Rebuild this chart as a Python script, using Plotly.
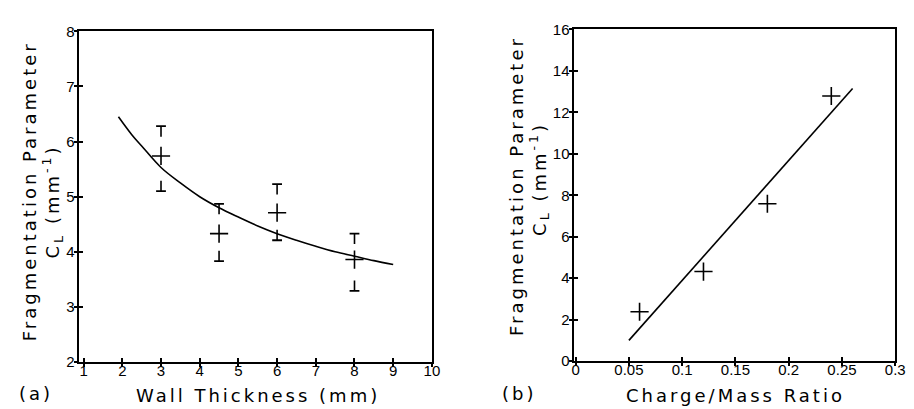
import plotly.graph_objects as go

W, H = 914, 409

# ---- Panel (a) data ----
wall_x = [3, 4.5, 6, 8]
wall_c = [5.74, 4.33, 4.71, 3.86]
wall_hi = [6.28, 4.87, 5.23, 4.33]
wall_lo = [5.10, 3.83, 4.21, 3.29]

fit_a_x = [1.9, 2.25, 2.5, 3.0, 3.5, 4.0, 4.5, 5.0, 5.5, 6.0, 6.5, 7.0, 7.5, 8.0, 8.5, 9.0]
fit_a_y = [6.45, 6.12, 5.92, 5.53, 5.25, 5.00, 4.80, 4.63, 4.47, 4.33, 4.21, 4.10, 4.00, 3.92, 3.84, 3.77]

# ---- Panel (b) data ----
ratio_x = [0.06, 0.12, 0.18, 0.24]
ratio_c = [2.38, 4.32, 7.59, 12.79]
fit_b_x = [0.05, 0.26]
fit_b_y = [1.0, 13.15]

a_ticks = [1, 2, 3, 4, 5, 6, 7, 8, 9, 10]
a_yticks = [2, 3, 4, 5, 6, 7, 8]
b_ticks = [0, 0.05, 0.1, 0.15, 0.2, 0.25, 0.3]
b_tick_text = ["0", "0.05", "0.1", "0.15", "0.2", "0.25", "0.3"]
b_yticks = [0, 2, 4, 6, 8, 10, 12, 14, 16]

STEM = 0.19  # length of the little stem on each error cap (style)

TICKFONT = dict(family="Liberation Sans, Arial, sans-serif", size=15, color="black")
TITLEFONT = dict(family="DejaVu Sans, Verdana, sans-serif", size=18, color="black")


def spaced(s, px=3):
    return '<span style="letter-spacing:%spx">%s</span>' % (px, s)


fig = go.Figure()

# Panel (a)
fig.add_trace(go.Scatter(x=fit_a_x, y=fit_a_y, mode="lines", line=dict(color="black", width=1.6, shape="spline"),
                         xaxis="x", yaxis="y", showlegend=False, hoverinfo="skip"))
fig.add_trace(go.Scatter(x=wall_x, y=wall_c, mode="markers",
                         marker=dict(symbol="cross-thin", size=13, line=dict(color="black", width=1.6)),
                         xaxis="x", yaxis="y", showlegend=False))
# upper caps: "T"
fig.add_trace(go.Scatter(x=wall_x, y=wall_hi, mode="markers",
                         marker=dict(symbol="line-ew", size=7, line=dict(color="black", width=1.8)),
                         error_y=dict(type="constant", value=0, valueminus=STEM, symmetric=False,
                                      width=0, thickness=1.6, color="black"),
                         xaxis="x", yaxis="y", showlegend=False))
# lower caps: "⊥"
fig.add_trace(go.Scatter(x=wall_x, y=wall_lo, mode="markers",
                         marker=dict(symbol="line-ew", size=7, line=dict(color="black", width=1.8)),
                         error_y=dict(type="constant", value=STEM, valueminus=0, symmetric=False,
                                      width=0, thickness=1.6, color="black"),
                         xaxis="x", yaxis="y", showlegend=False))

# Panel (b)
fig.add_trace(go.Scatter(x=fit_b_x, y=fit_b_y, mode="lines", line=dict(color="black", width=1.6),
                         xaxis="x2", yaxis="y2", showlegend=False, hoverinfo="skip"))
fig.add_trace(go.Scatter(x=ratio_x, y=ratio_c, mode="markers",
                         marker=dict(symbol="cross-thin", size=13, line=dict(color="black", width=1.6)),
                         xaxis="x2", yaxis="y2", showlegend=False))

# dummy traces for overlay axes (ticks drawn on the other side of the axis line)
fig.add_trace(go.Scatter(x=[None], y=[None], xaxis="x3", yaxis="y3", showlegend=False))
fig.add_trace(go.Scatter(x=[None], y=[None], xaxis="x4", yaxis="y4", showlegend=False))

ax_common = dict(showgrid=False, zeroline=False, showline=True, linecolor="black", linewidth=2,
                 ticks="inside", ticklen=4, tickwidth=1.5, tickcolor="black", tickfont=TICKFONT,
                 mirror=True)
ov_common = dict(showgrid=False, zeroline=False, showline=False, ticks="outside", ticklen=4,
                 tickwidth=1.5, tickcolor="black", showticklabels=False)

xa_dom = [69.5 / W, 427.5 / W]
ya_dom = [1 - 360 / H, 1 - 15 / H]
xb_dom = [571 / W, 897 / W]
yb_dom = [1 - 359 / H, 1 - 13 / H]

fig.update_layout(
    width=W, height=H, margin=dict(l=0, r=0, t=0, b=0),
    paper_bgcolor="white", plot_bgcolor="white",
    xaxis=dict(domain=xa_dom, range=[0.87, 10], tickvals=a_ticks, anchor="y", ticklabelstandoff=-6, **ax_common),
    yaxis=dict(domain=ya_dom, range=[2, 8], tickvals=a_yticks, anchor="x", ticklabelstandoff=-1, **ax_common),
    xaxis2=dict(domain=xb_dom, range=[-0.002, 0.3], tickvals=b_ticks, ticktext=b_tick_text,
                anchor="y2", ticklabelstandoff=-6, **ax_common),
    yaxis2=dict(domain=yb_dom, range=[0, 16], tickvals=b_yticks, anchor="x2", ticklabelstandoff=-1, **ax_common),
    xaxis3=dict(overlaying="x", anchor="y3", range=[0.87, 10], tickvals=a_ticks, **ov_common),
    yaxis3=dict(overlaying="y", anchor="x3", range=[2, 8], tickvals=a_yticks, **ov_common),
    xaxis4=dict(overlaying="x2", anchor="y4", range=[-0.002, 0.3], tickvals=b_ticks, **ov_common),
    yaxis4=dict(overlaying="y2", anchor="x4", range=[0, 16], tickvals=b_yticks, **ov_common),
)

ann = []
# x titles
ann.append(dict(text=spaced("Wall Thickness (mm)"), x=251 / W, y=1 - 395 / H, xref="paper", yref="paper",
                showarrow=False, font=TITLEFONT, xanchor="center", yanchor="middle"))
ann.append(dict(text=spaced("Charge/Mass Ratio"), x=735 / W, y=1 - 395 / H, xref="paper", yref="paper",
                showarrow=False, font=TITLEFONT, xanchor="center", yanchor="middle"))
# panel labels
ann.append(dict(text=spaced("(a)"), x=26 / W, y=1 - 393 / H, xref="paper", yref="paper",
                showarrow=False, font=TITLEFONT, xanchor="center", yanchor="middle"))
ann.append(dict(text=spaced("(b)"), x=516 / W, y=1 - 393 / H, xref="paper", yref="paper",
                showarrow=False, font=TITLEFONT, xanchor="center", yanchor="middle"))
# y titles
ann.append(dict(text=spaced("Fragmentation Parameter"), x=20 / W, y=1 - 182 / H, xref="paper", yref="paper",
                showarrow=False, font=TITLEFONT, textangle=-90, xanchor="center", yanchor="middle"))
ann.append(dict(text=spaced("C<sub>L</sub> (mm<sup>-1</sup>)"), x=43 / W, y=1 - 192 / H, xref="paper", yref="paper",
                showarrow=False, font=TITLEFONT, textangle=-90, xanchor="center", yanchor="middle"))
ann.append(dict(text=spaced("Fragmentation Parameter"), x=513 / W, y=1 - 176 / H, xref="paper", yref="paper",
                showarrow=False, font=TITLEFONT, textangle=-90, xanchor="center", yanchor="middle"))
ann.append(dict(text=spaced("C<sub>L</sub> (mm<sup>-1</sup>)"), x=536 / W, y=1 - 169 / H, xref="paper", yref="paper",
                showarrow=False, font=TITLEFONT, textangle=-90, xanchor="center", yanchor="middle"))
fig.update_layout(annotations=ann)

fig.write_html("out.html")
